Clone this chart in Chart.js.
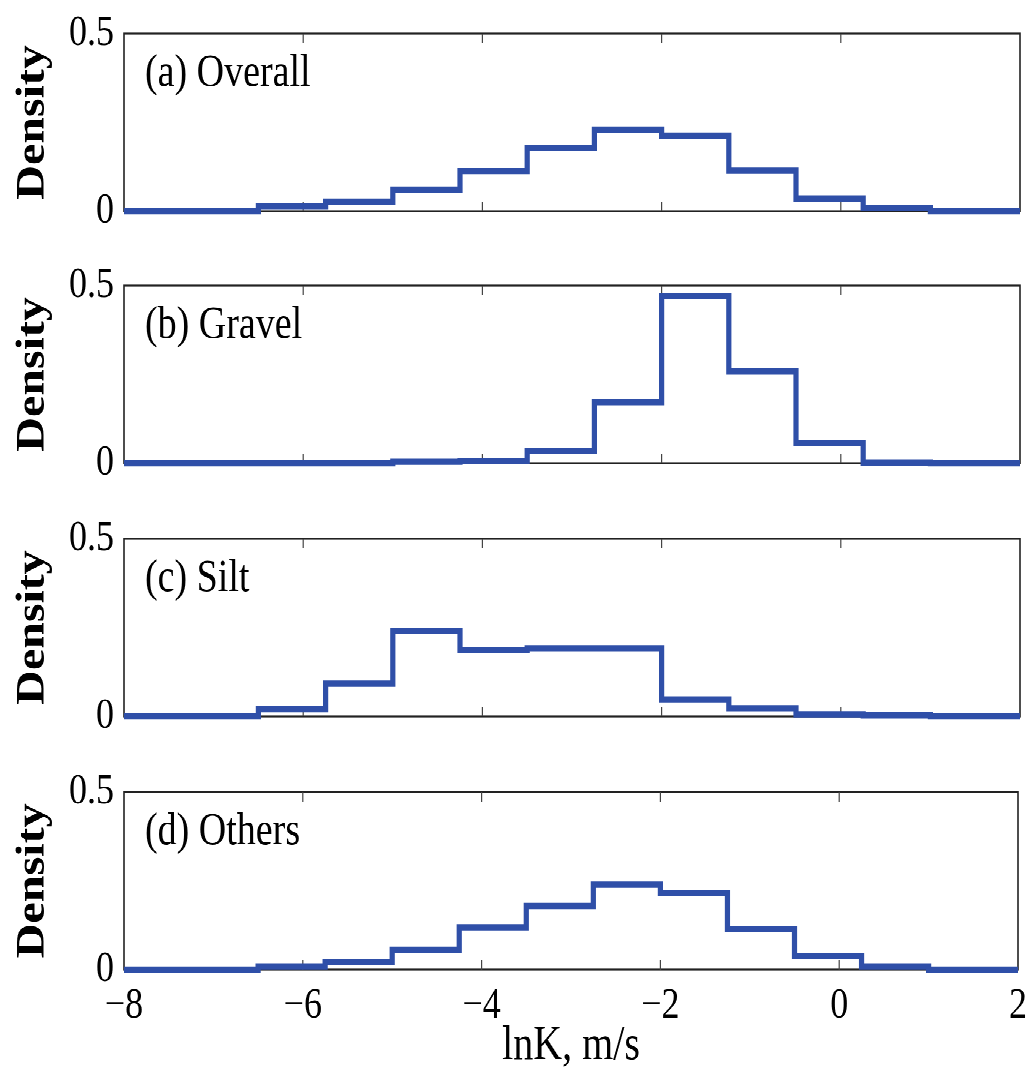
<!DOCTYPE html>
<html>
<head>
<meta charset="utf-8">
<script src="https://cdn.jsdelivr.net/npm/chart.js@4.4.1/dist/chart.umd.min.js"></script>
<style>
  html, body { margin: 0; background: #fff; }
  /* panels are laid out in a short box and stretched vertically */
  #figure { position: absolute; left: 0; top: 0; width: 1036px; height: 896.67px;
            transform: scaleY(1.2); transform-origin: 0 0; }
  .panel { position: absolute; left: 0; width: 1036px; }
</style>
</head>
<body>
<div id="figure">
  <div class="panel" style="top:0px;height:206px"><canvas id="panel-a"></canvas></div>
  <div class="panel" style="top:210px;height:206px"><canvas id="panel-b"></canvas></div>
  <div class="panel" style="top:421px;height:206px"><canvas id="panel-c"></canvas></div>
  <div class="panel" style="top:632px;height:264px"><canvas id="panel-d"></canvas></div>
</div>
<script>
// histogram bin edges (lnK), bins are 0.75 wide between -6.5 and 1
const binEdges = [-8, -6.5, -5.75, -5, -4.25, -3.5, -2.75, -2, -1.25, -0.5, 0.25, 1, 2];

// density of each bin from -6.5 to 1
const overall = [0.013, 0.027, 0.061, 0.113, 0.178, 0.230, 0.213, 0.114, 0.036, 0.010];
const gravel  = [0, 0, 0.004, 0.006, 0.035, 0.172, 0.470, 0.258, 0.056, 0.002];
const silt    = [0.020, 0.092, 0.240, 0.186, 0.192, 0.192, 0.048, 0.023, 0.006, 0.003];
const others  = [0.009, 0.021, 0.056, 0.119, 0.179, 0.239, 0.216, 0.114, 0.038, 0.009];

const panelLabels = ['(a) Overall', '(b) Gravel', '(c) Silt', '(d) Others'];
const xTicks = [-8, -6, -4, -2, 0, 2];
const yTicks = [0, 0.5];

const serif = '"Liberation Serif", "Times New Roman", serif';
const lineBlue = '#2f4fa8';

function stepPoints(values) {
  const pts = [{ x: binEdges[0], y: 0 }];
  values.forEach((v, i) => pts.push({ x: binEdges[i + 1], y: v }));
  pts.push({ x: binEdges[binEdges.length - 2], y: 0 });
  pts.push({ x: binEdges[binEdges.length - 1], y: 0 });
  return pts;
}

// box around the axes, inward x ticks and the panel caption
const framePlugin = {
  id: 'frame',
  beforeDatasetsDraw(chart, args, opts) {
    const { ctx, chartArea: a, scales: { x } } = chart;
    ctx.save();
    ctx.strokeStyle = '#222';
    ctx.lineWidth = 1.6;
    ctx.strokeRect(a.left, a.top, a.width, a.height);
    ctx.strokeStyle = '#444';
    ctx.lineWidth = 1.2;
    xTicks.slice(1, -1).forEach(v => {
      const px = x.getPixelForValue(v);
      ctx.beginPath();
      ctx.moveTo(px, a.top); ctx.lineTo(px, a.top + 8);
      ctx.moveTo(px, a.bottom); ctx.lineTo(px, a.bottom - 8);
      ctx.stroke();
    });
    ctx.fillStyle = '#000';
    ctx.font = '38px ' + serif;
    ctx.textBaseline = 'alphabetic';
    ctx.fillText(opts.label, a.left + 21, a.top + 43.5);
    ctx.restore();
  }
};

function makePanel(id, label, values, showX) {
  new Chart(document.getElementById(id), {
    type: 'line',
    data: {
      datasets: [{
        data: stepPoints(values),
        stepped: 'before',
        borderColor: lineBlue,
        borderWidth: 5.2,
        borderJoinStyle: 'miter',
        borderCapStyle: 'butt',
        pointRadius: 0,
        fill: false,
        clip: false
      }]
    },
    options: {
      responsive: true,
      maintainAspectRatio: false,
      animation: false,
      devicePixelRatio: 2,
      layout: { padding: { top: 26, right: 16, bottom: showX ? 0 : 30, left: 0 } },
      plugins: {
        legend: { display: false },
        tooltip: { enabled: false },
        frame: { label: label }
      },
      scales: {
        x: {
          type: 'linear',
          min: -8,
          max: 2,
          display: showX,
          grid: { display: false, drawTicks: false },
          border: { display: false },
          afterBuildTicks: s => { s.ticks = xTicks.map(v => ({ value: v })); },
          ticks: {
            padding: 9,
            maxRotation: 0,
            autoSkip: false,
            color: '#000',
            font: { family: serif, size: 36 },
            callback: v => String(v).replace('-', '\u2212')
          },
          title: {
            display: true,
            text: 'lnK, m/s',
            color: '#000',
            font: { family: serif, size: 40 },
            padding: { top: 0, bottom: 0 }
          },
          afterFit: s => { s.height = showX ? 88 : 0; }
        },
        y: {
          min: 0,
          max: 0.5,
          grid: { display: false, drawTicks: false },
          border: { display: false },
          afterBuildTicks: s => { s.ticks = yTicks.map(v => ({ value: v })); },
          ticks: {
            padding: 10,
            color: '#000',
            font: { family: serif, size: 36, lineHeight: 1 },
            callback: v => String(v)
          },
          title: {
            display: true,
            text: 'Density',
            color: '#000',
            font: { family: serif, size: 40, weight: 'bold' },
            padding: { top: 9, bottom: 0 }
          },
          afterFit: s => { s.width = 124; }
        }
      }
    },
    plugins: [framePlugin]
  });
}

makePanel('panel-a', panelLabels[0], overall, false);
makePanel('panel-b', panelLabels[1], gravel, false);
makePanel('panel-c', panelLabels[2], silt, false);
makePanel('panel-d', panelLabels[3], others, true);
</script>
</body>
</html>
